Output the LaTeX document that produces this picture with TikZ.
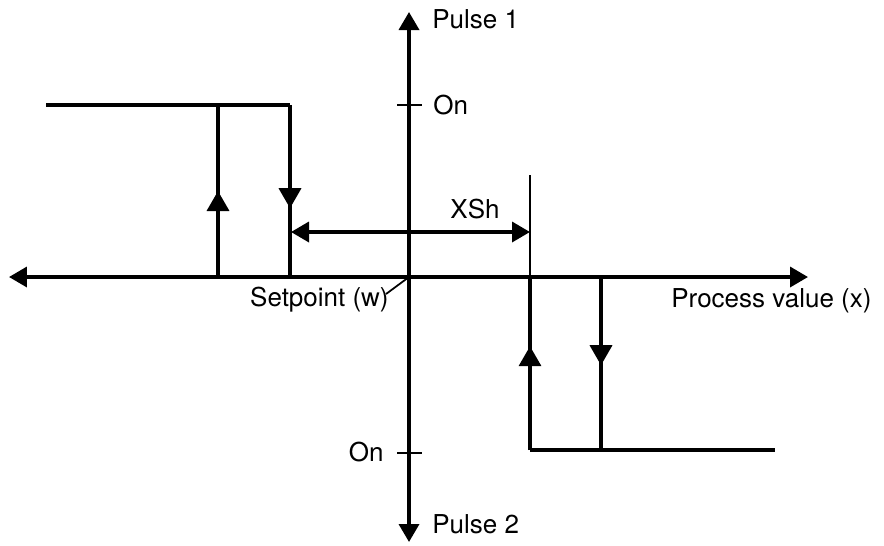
\documentclass[tikz,border=0pt]{standalone}
\usepackage{fontspec}
\setmainfont{TeX Gyre Heros}
\usetikzlibrary{arrows.meta,decorations.markings}

\begin{document}
\begin{tikzpicture}[
        x=0.02cm, y=-0.02cm,
        every node/.style={font=\fontsize{14.8}{17}\selectfont, inner sep=0pt},
        axis/.style={line width=2pt, {Triangle[length=0.36cm,width=0.4cm]}-{Triangle[length=0.36cm,width=0.4cm]}},
        curve/.style={line width=2pt},
        thin line/.style={line width=1pt},
        midarrow/.style={postaction={decorate}, decoration={markings,
            mark=at position #1 with {\arrow{Triangle[length=0.4cm,width=0.44cm]}}}}
    ]
        \useasboundingbox (0,0) rectangle (884,545);

        % axes
        \coordinate (O) at (409,277);
        \coordinate (ytop) at (409,12);
        \coordinate (ybot) at (409,542);
        \coordinate (xleft) at (9,277);
        \coordinate (xright) at (808,277);
        \draw[axis] (xleft) -- (xright);
        \draw[axis] (ybot) -- (ytop);

        % ticks
        \coordinate (t1a) at (397,105);
        \coordinate (t1b) at (422,105);
        \coordinate (t2a) at (397,453);
        \coordinate (t2b) at (422,453);
        \draw[thin line] (t1a) -- (t1b);
        \draw[thin line] (t2a) -- (t2b);

        % pulse 1 hysteresis
        \coordinate (a0) at (46,105);
        \coordinate (a1) at (218,105);
        \coordinate (a2) at (290,105);
        \coordinate (a3) at (218,277);
        \coordinate (a4) at (290,277);
        \draw[curve] (a0) -- (a2);
        \draw[curve, midarrow=0.5] (a3) -- (a1);
        \draw[curve, midarrow=0.6] (a2) -- (a4);

        % pulse 2 hysteresis
        \coordinate (b0) at (775,450);
        \coordinate (b1) at (530,450);
        \coordinate (b2) at (601,450);
        \coordinate (b3) at (530,277);
        \coordinate (b4) at (601,277);
        \coordinate (bm) at (530,175);
        \draw[curve] (b1) -- (b0);
        \draw[curve, midarrow=0.6] (b1) -- (b3);
        \draw[curve, midarrow=0.51] (b4) -- (b2);
        \draw[thin line] (b3) -- (bm);

        % switching gap
        \coordinate (xs1) at (291,232);
        \coordinate (xs2) at (530,232);
        \draw[axis] (xs1) -- (xs2);
        \node[anchor=base] (xsh) at (475,218) {XSh};

        % labels
        \node[anchor=base west] (pulse1) at (432,28) {Pulse 1};
        \node[anchor=base west] (pulse2) at (432,533) {Pulse 2};
        \node[anchor=base west] (on1) at (433,114) {On};
        \node[anchor=base east] (on2) at (384,461) {On};
        \node[anchor=base west] (pv) at (671,307) {Process value (x)};
        \node[anchor=base east] (sp) at (389,306) {Setpoint (w)};
        \coordinate (spend) at (386,294);
        \draw[thin line] (spend) -- (O);
    \end{tikzpicture}
\end{document}
